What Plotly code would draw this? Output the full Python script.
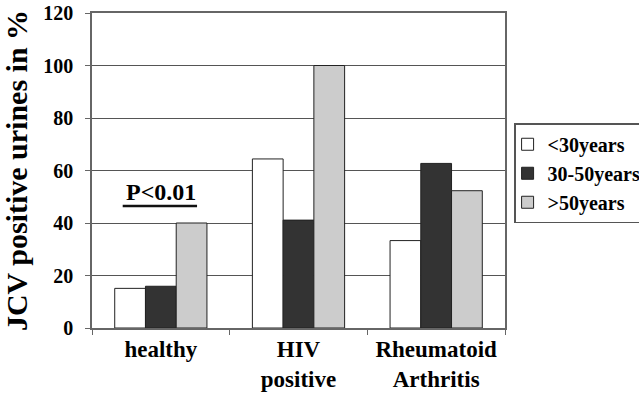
import plotly.graph_objects as go

categories = ["healthy", "HIV positive", "Rheumatoid Arthritis"]
tick_labels = ["healthy", "HIV<br>positive", "Rheumatoid<br>Arthritis"]
series_names = ["<30years", "30-50years", ">50years"]
under30 = [15.1, 64.4, 33.3]
age30_50 = [15.9, 41.1, 62.7]
over50 = [40.0, 100.0, 52.3]
y_ticks = [0, 20, 40, 60, 80, 100, 120]

FONT = "Liberation Serif"
INK = "#000000"
colors = ["#ffffff", "#333333", "#cccccc"]
values = [under30, age30_50, over50]

fig = go.Figure()
for name, vals, col in zip(series_names, values, colors):
    fig.add_trace(go.Bar(
        x=categories, y=vals, name=name, legendgroup=name,
        marker=dict(color=col, line=dict(color="#222222", width=1)),
    ))

fig.update_layout(
    width=639, height=396, autosize=False,
    margin=dict(l=92, r=134, t=13, b=68, autoexpand=False),
    paper_bgcolor="white", plot_bgcolor="white",
    barmode="group", bargap=0.33, bargroupgap=0,
    font=dict(color=INK),
    legend=dict(
        x=1.022, xanchor="left", y=0.65, yanchor="top",
        bordercolor="#555555", borderwidth=1.5, indentation=-8,
        font=dict(family=FONT, size=20, weight="bold", color=INK),
        itemwidth=30, tracegroupgap=0, traceorder="normal",
    ),
    showlegend=True,
)

fig.update_xaxes(
    type="category", tickvals=categories, ticktext=tick_labels,
    tickson="boundaries", ticks="outside", ticklen=5, tickcolor="#666666",
    showline=True, linecolor="#666666", linewidth=1.5, mirror=True,
    showgrid=False, tickangle=0, automargin=False, ticklabeloverflow="allow",
    tickfont=dict(family=FONT, size=23, weight="bold", color=INK),
)
fig.update_yaxes(
    range=[0, 120], tickvals=y_ticks, ticks="outside", ticklen=5, tickcolor="#666666",
    showline=True, linecolor="#666666", linewidth=1.5, mirror=True,
    showgrid=True, gridcolor="#555555", gridwidth=1, automargin=False,
    ticklabeloverflow="allow",
    tickfont=dict(family=FONT, size=20, weight="bold", color=INK),
    ticklabelstandoff=8,
    title=dict(text="JCV positive urines in %", font=dict(family=FONT, size=30, weight="bold", color=INK)),
)

fig.add_annotation(
    x=0, y=52, xref="x", yref="y", text="P<0.01", showarrow=False,
    font=dict(family=FONT, size=24, weight="bold", color=INK), yanchor="middle",
)
fig.add_shape(type="line", xref="x", yref="y", x0=-0.277, x1=0.263, y0=46.5, y1=46.5,
              line=dict(color="#111111", width=2.5))

fig.write_html("out.html", config={"displayModeBar": False},
               post_script="document.body.style.margin='0px';")
